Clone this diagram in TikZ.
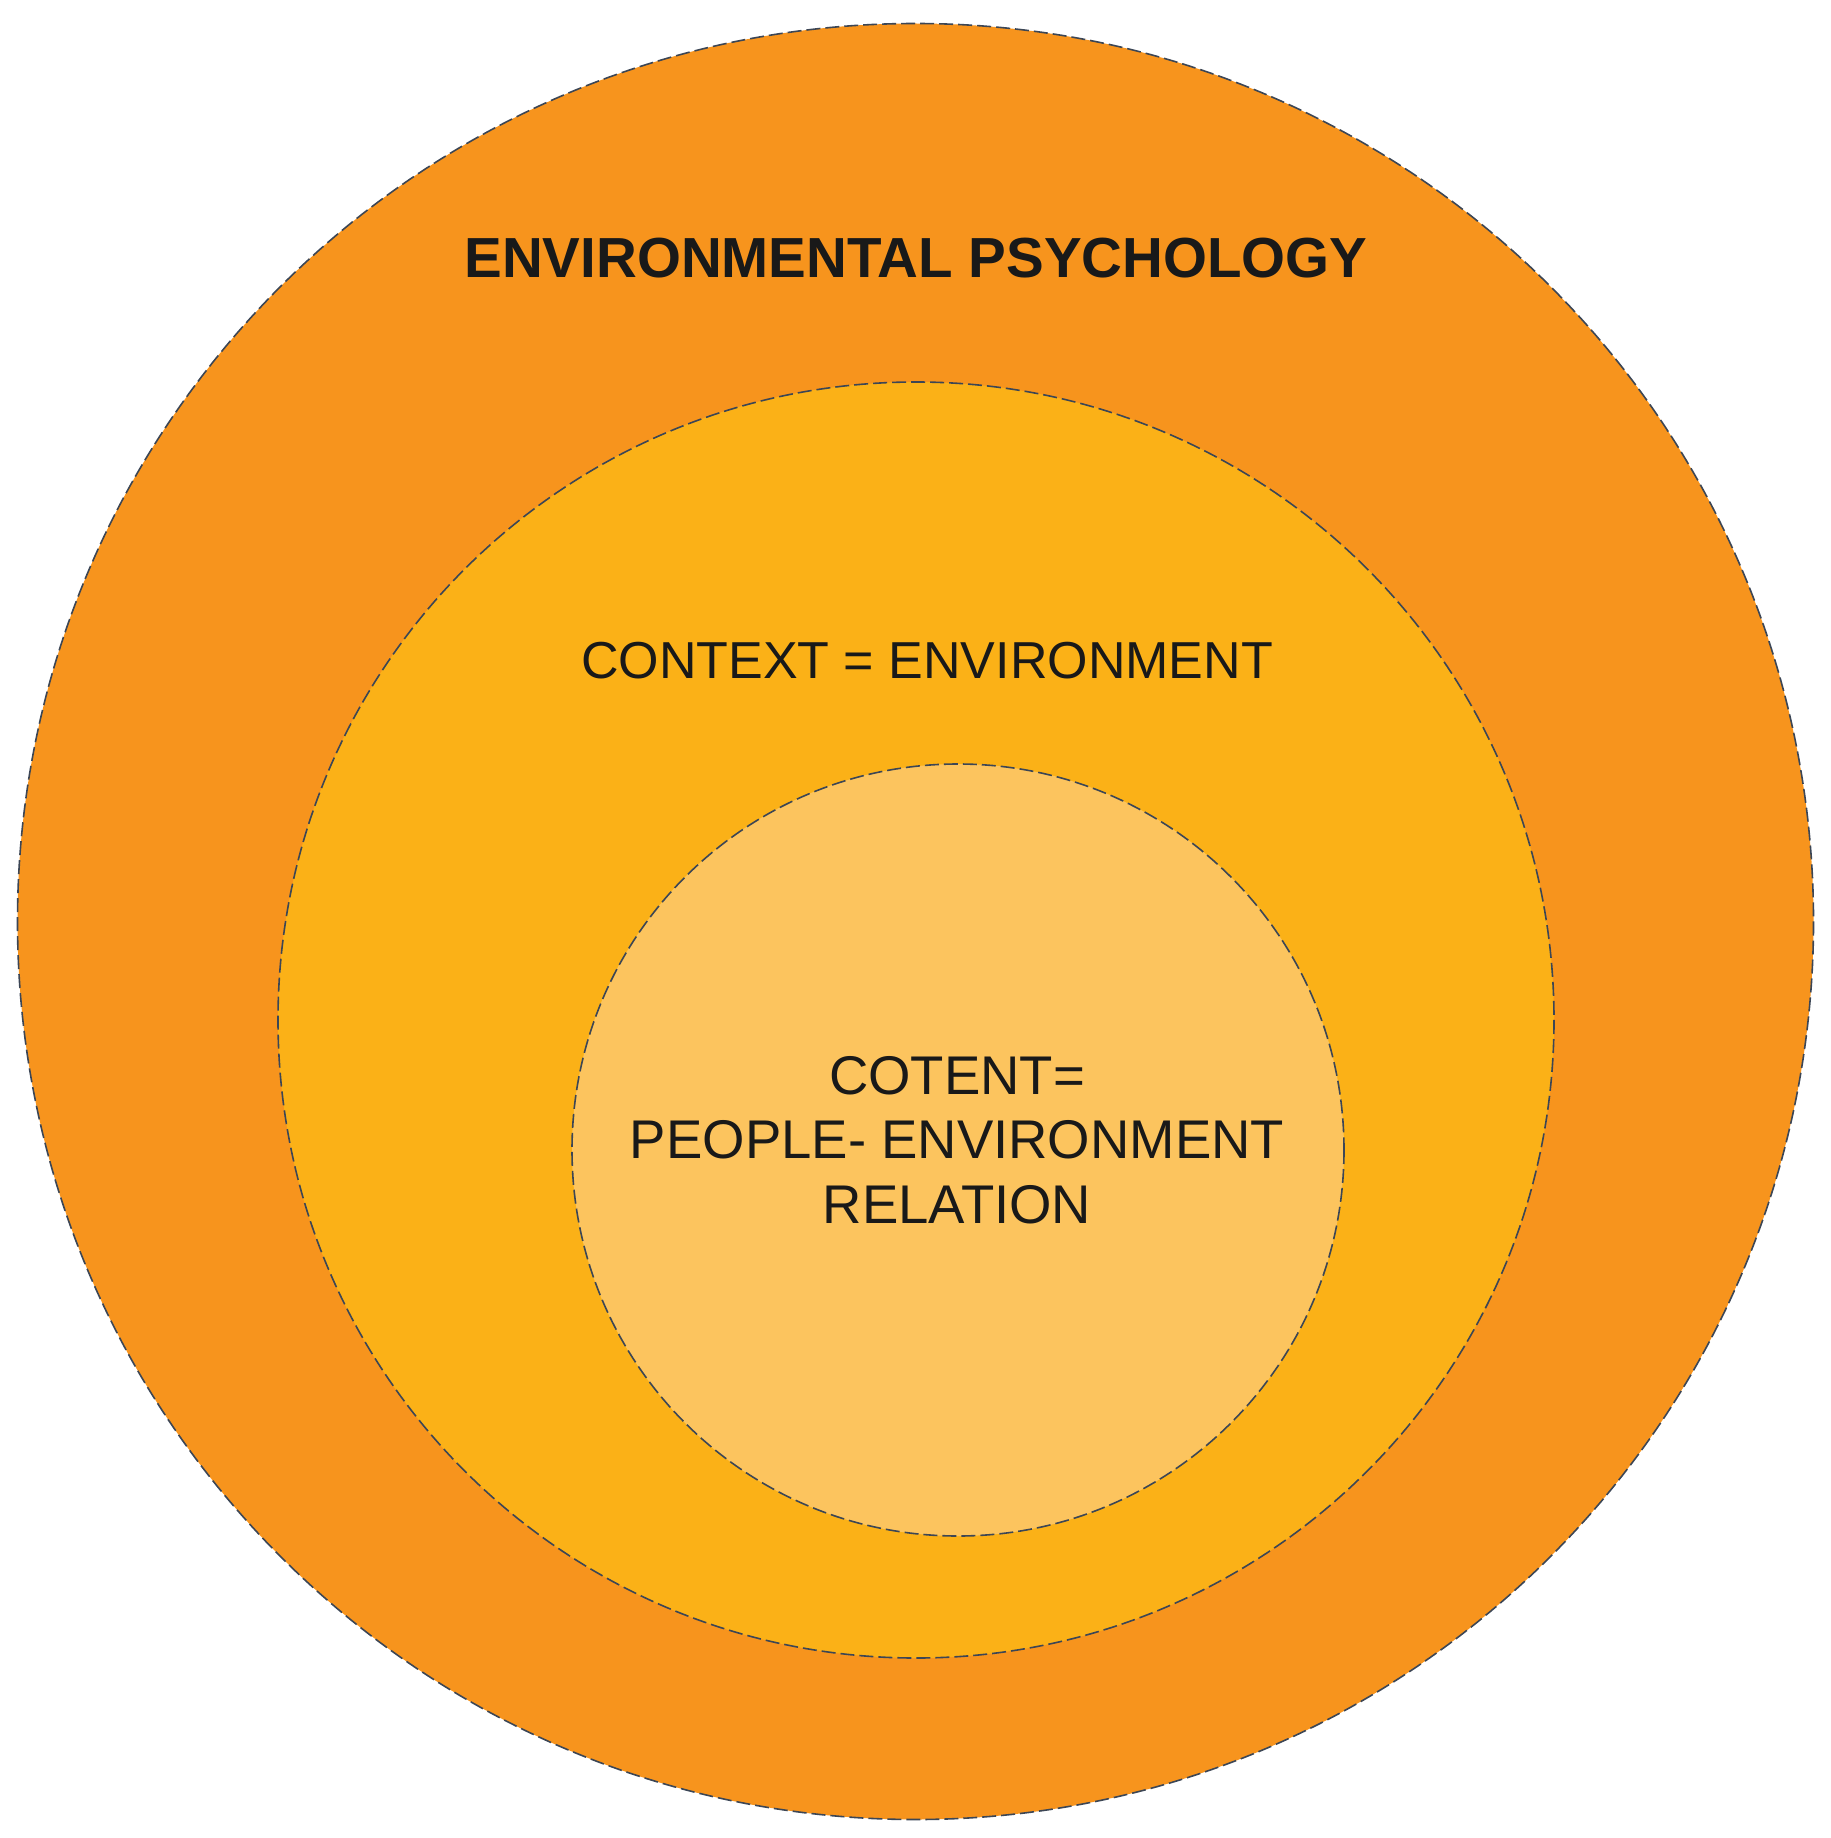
\documentclass[tikz,border=0pt]{standalone}
\usepackage{fontspec}
\setmainfont{Liberation Sans}
\definecolor{outerC}{RGB}{247,148,29}
\definecolor{midC}{RGB}{251,177,23}
\definecolor{innerC}{RGB}{252,196,94}
\definecolor{edgeC}{RGB}{60,70,85}
\tikzset{
  ring/.style={draw=edgeC, line width=1.6pt, dash pattern=on 14pt off 5pt},
  lbl/.style={text=black!90, inner sep=0pt, anchor=base}
}
\begin{document}
\begin{tikzpicture}[x=1pt,y=-1pt]
\useasboundingbox (0,0) rectangle (1830,1838);
\fill[white] (0,0) rectangle (1830,1838);
\path[ring, fill=outerC] (915.5,921.5) circle[radius=898];
\path[ring, fill=midC] (916,1020) circle[radius=638];
\path[ring, fill=innerC] (958,1150) circle[radius=386];
\node[lbl, font=\fontsize{56.5}{60}\selectfont\bfseries] (t1) at (916,277) {ENVIRONMENTAL PSYCHOLOGY};
\node[lbl, font=\fontsize{52}{60}\selectfont] (t2) at (927,678) {CONTEXT = ENVIRONMENT};
\node[lbl, align=center, font=\fontsize{54.5}{64.5}\selectfont] (t3) at (957,1223) {COTENT=\\PEOPLE- ENVIRONMENT\\RELATION};
\end{tikzpicture}
\end{document}
